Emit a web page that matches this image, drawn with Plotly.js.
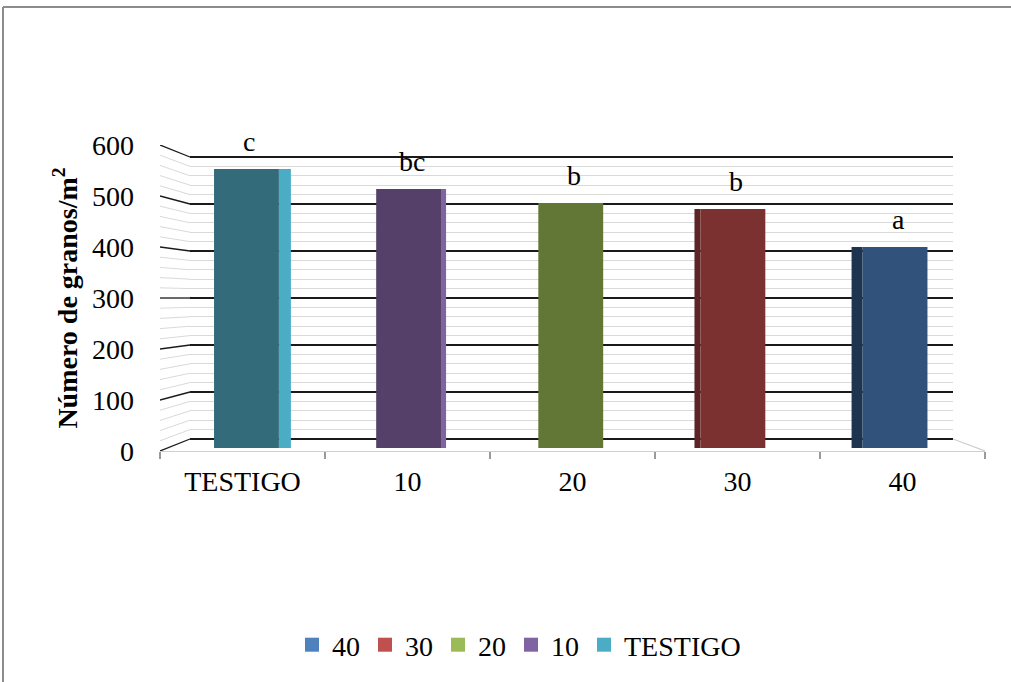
<!DOCTYPE html>
<html><head><meta charset="utf-8">
<script src="https://cdn.plot.ly/plotly-3.0.1.min.js"></script>
<style>html,body{margin:0;padding:0;background:#fff;overflow:hidden}#chart{width:1011px;height:682px}</style>
</head><body><div id="chart"></div>
<script>
// ---- data ----
const categories = ['TESTIGO', '10', '20', '30', '40'];
const values = [558, 518, 490, 478, 402];
const letters = ['c', 'bc', 'b', 'b', 'a'];
const yTickValues = [0, 100, 200, 300, 400, 500, 600];
const legendOrder = ['40', '30', '20', '10', 'TESTIGO'];
const yTitle = '<b>Número de granos/m<sup>2</sup></b>';

// ---- styles ----
const frontColors = ['#336b7a', '#544068', '#627636', '#7a3130', '#31527b'];
const sideColors  = ['#4bacc6', '#8064a2', '#627636', '#5c2524', '#1f3450'];
const sideWidths  = [0.074, 0.031, 0, 0.037, 0.068];
const sideOffsets = [0.2, 0.2, 0, -0.237, -0.268];
const legendColors = {'TESTIGO': '#4bacc6', '10': '#8064a2', '20': '#9bbb59', '30': '#c0504d', '40': '#4f81bd'};

const W = 1011, H = 682;
const FONT = '"Liberation Serif","Times New Roman",serif';
const FS = 28;
const fx = p => p / W, fy = p => 1 - p / H;
const FRONT = {left: 160, right: 985, base: 451, top: 145};
const BACK  = {left: 190, right: 953, base: 439, top: 157};
const BAR   = {left: 165.4, right: 976.1, base: 448, top: 148};
const YMAX = 600, MINOR = 20, PAD = 1.5;
const MAJOR_C = '#1a1a1a', MINOR_C = '#d9d9d9';

// value on the back wall, expressed in front-axis units (perspective)
const backInFront = v => {
  const py = BACK.base - v * (BACK.base - BACK.top) / YMAX;
  return (FRONT.base - py) * YMAX / (FRONT.base - FRONT.top);
};
const backLeftX = (BACK.left - FRONT.left) / (FRONT.right - FRONT.left);
const backRightX = (BACK.right - FRONT.left) / (FRONT.right - FRONT.left);
const backPxPerUnit = (BACK.base - BACK.top) / YMAX;

// left wall lines
const majX = [], majY = [], minX = [], minY = [];
for (let v = 0; v <= YMAX; v += MINOR) {
  const isMajor = yTickValues.includes(v);
  const X = isMajor ? majX : minX, Y = isMajor ? majY : minY;
  X.push(0, backLeftX, null); Y.push(v, backInFront(v), null);
}

const traces = [
  // back wall subplot holder (grid drawn by the axis)
  {type: 'scatter', mode: 'lines', x: [null], y: [null], xaxis: 'x', yaxis: 'y',
   showlegend: false, hoverinfo: 'skip'},
  {type: 'scatter', mode: 'lines', x: minX, y: minY, xaxis: 'x2', yaxis: 'y2',
   line: {color: MINOR_C, width: 1}, showlegend: false, hoverinfo: 'skip'},
  {type: 'scatter', mode: 'lines', x: majX, y: majY, xaxis: 'x2', yaxis: 'y2',
   line: {color: MAJOR_C, width: 1.3}, showlegend: false, hoverinfo: 'skip'},
  {type: 'scatter', mode: 'lines', x: [1, backRightX], y: [0, backInFront(0)], xaxis: 'x2', yaxis: 'y2',
   line: {color: '#d0d0d0', width: 1.3}, showlegend: false, hoverinfo: 'skip'},
  // side faces
  {type: 'bar', x: categories, y: values, xaxis: 'x3', yaxis: 'y3',
   width: sideWidths, offset: sideOffsets,
   marker: {color: sideColors, line: {width: 0}}, showlegend: false, hoverinfo: 'skip'},
  // front faces
  {type: 'bar', x: categories, y: values, xaxis: 'x3', yaxis: 'y3', width: 0.4,
   marker: {color: frontColors, line: {width: 0}}, showlegend: false, hoverinfo: 'skip'}
];
legendOrder.forEach(c => traces.push({
  type: 'scatter', mode: 'markers', x: [c], y: [null], xaxis: 'x4', yaxis: 'y2', name: c,
  marker: {color: legendColors[c], symbol: 'square', size: 14, line: {width: 0}}, hoverinfo: 'skip'
}));

const annotations = categories.map((c, i) => ({
  xref: 'x3', yref: 'y3', x: i, y: values[i], text: letters[i], showarrow: false,
  yanchor: 'bottom', yshift: 10, xshift: 3, font: {family: FONT, size: FS, color: '#000'}
}));

const layout = {
  width: W, height: H, autosize: false,
  margin: {l: 0, r: 0, t: 0, b: 0},
  paper_bgcolor: '#fff', plot_bgcolor: 'rgba(0,0,0,0)',
  barmode: 'overlay', hovermode: false,
  font: {family: FONT, size: FS, color: '#000'},
  showlegend: true,
  legend: {orientation: 'h', x: 519 / W, xanchor: 'center', y: fy(645), yanchor: 'middle',
           font: {family: FONT, size: FS, color: '#000'}, itemwidth: 30, traceorder: 'normal',
           itemsizing: 'trace'},
  // back wall grid (domain padded so the 0 and 600 lines are drawn)
  xaxis: {domain: [fx(BACK.left), fx(BACK.right)], range: [0, 1], visible: false, fixedrange: true},
  yaxis: {domain: [fy(BACK.base + PAD * backPxPerUnit * 4), fy(BACK.top - PAD * backPxPerUnit * 4)],
          range: [-PAD * 4, YMAX + PAD * 4], tickvals: yTickValues,
          showgrid: true, gridcolor: MAJOR_C, gridwidth: 1.3, zeroline: false,
          showticklabels: false, ticks: '', showline: false,
          minor: {dtick: MINOR, showgrid: true, gridcolor: MINOR_C, gridwidth: 1, ticks: ''}},
  // front frame
  xaxis2: {domain: [fx(FRONT.left), fx(FRONT.right)], range: [0, 1], anchor: 'y2', visible: false},
  yaxis2: {domain: [fy(FRONT.base), fy(FRONT.top)], range: [0, YMAX], anchor: 'x2',
           tickvals: yTickValues, showgrid: false, zeroline: false, showline: false, ticks: '',
           ticklabelstandoff: 25, tickfont: {family: FONT, size: FS, color: '#000'},
           title: {text: yTitle, standoff: 6, font: {family: FONT, size: FS, color: '#000'}}},
  // bars
  xaxis3: {domain: [fx(BAR.left), fx(BAR.right)], type: 'category', categoryorder: 'array',
           categoryarray: categories, range: [-0.5, 4.5], anchor: 'y3', visible: false},
  yaxis3: {domain: [fy(BAR.base), fy(BAR.top)], range: [0, YMAX], anchor: 'x3', visible: false},
  // category labels on front edge
  xaxis4: {domain: [fx(FRONT.left), fx(FRONT.right)], type: 'category', categoryorder: 'array',
           categoryarray: categories, range: [-0.5, 4.5], anchor: 'y2',
           showline: true, linecolor: '#d0d0d0', linewidth: 1.3, ticks: 'outside', ticklen: 7,
           tickcolor: '#9a9a9a', tickwidth: 1.3, tickson: 'boundaries', showgrid: false,
           ticklabelstandoff: 5, tickfont: {family: FONT, size: FS, color: '#000'}},
  annotations: annotations,
  shapes: [
    {type: 'line', xref: 'paper', yref: 'paper', x0: fx(3), x1: 1, y0: fy(7), y1: fy(7),
     line: {color: '#8c8c8c', width: 2}, layer: 'below'},
    {type: 'line', xref: 'paper', yref: 'paper', x0: fx(3), x1: fx(3), y0: 0, y1: fy(7),
     line: {color: '#8c8c8c', width: 2}, layer: 'below'}
  ]
};

Plotly.newPlot('chart', traces, layout, {staticPlot: true, displayModeBar: false});
</script></body></html>
